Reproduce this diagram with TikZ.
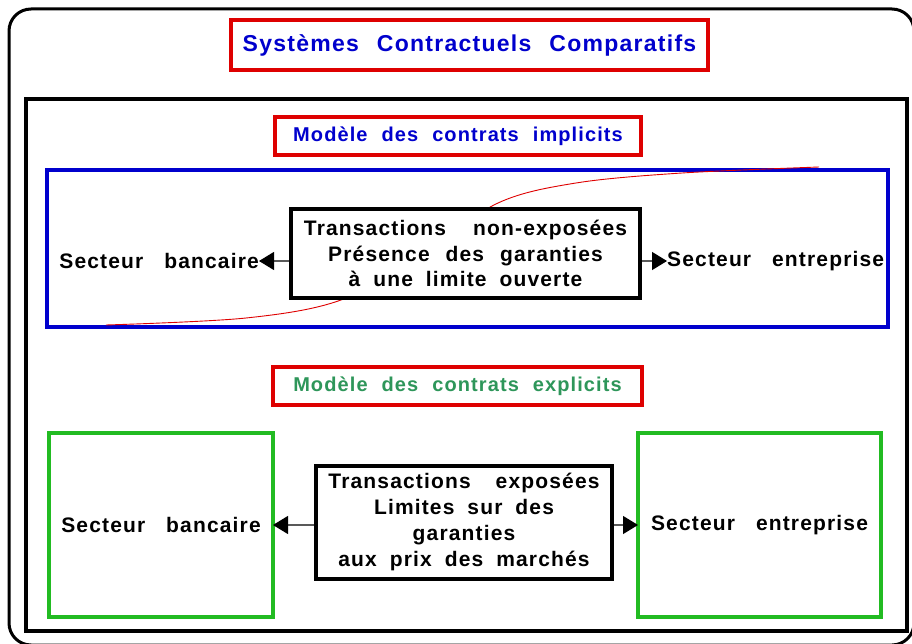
\documentclass[tikz,border=0pt]{standalone}
\usepackage{fontspec}
\setmainfont{Liberation Sans}
\newfontfamily\lbl[LetterSpace=5.5]{Liberation Sans}
\usetikzlibrary{arrows.meta,calc}
\definecolor{tblue}{RGB}{0,0,205}
\definecolor{tred}{RGB}{222,0,0}
\definecolor{tgreen}{RGB}{34,187,34}
\definecolor{tsea}{RGB}{46,150,90}
% word gap of a given width (pt)
\newcommand\wg[1]{\hspace{#1pt}}
\begin{document}
\begin{tikzpicture}[x=1pt,y=-1pt,
  txt/.style={font=\lbl\bfseries\fontsize{21}{25.7}\selectfont, inner sep=0pt, align=center},
  subtxt/.style={font=\lbl\bfseries\fontsize{20}{24}\selectfont},
  frame/.style={txt, draw, line width=4pt, fill=white},
  redbox/.style={frame, draw=tred},
  greenbox/.style={frame, draw=tgreen},
  blackbox/.style={frame, draw=black},
  arr/.style={draw=black!65, line width=1.2pt,
    -{Triangle[length=15pt,width=18pt,color=black]}}]
\useasboundingbox (0,0) rectangle (912,644);

% outer rounded frame and inner frame
\draw[line width=3pt, rounded corners=22pt] (9,9) rectangle (914,645);
\draw[line width=4pt] (26,99) rectangle (907,631);

% title
\node[redbox, minimum width=477pt, minimum height=50pt, text=tblue,
      font=\lbl\bfseries\fontsize{23}{28}\selectfont] (title) at (469.5,45)
  {Systèmes\wg{18}Contractuels\wg{18}Comparatifs};

% implicit contracts
\node[redbox, subtxt, minimum width=366pt, minimum height=38pt, text=tblue] (impl) at (458,136)
  {Modèle\wg{14}des\wg{14}contrats\wg{14}implicits};
\node[draw=tblue, line width=4pt, minimum width=841pt, minimum height=157pt, inner sep=0pt] (bluezone) at (467.5,248.5) {};

\draw[tred, line width=0.9pt] plot[smooth, tension=0.55] coordinates
  {(106,325) (246,318) (341,300) (420,255) (498,203) (576,183) (682,173) (819,167)};

\node[blackbox, minimum width=349pt, minimum height=89pt] (c1) at (465.5,253.5)
  {Transactions\wg{27}non-exposées\\Présence\wg{16}des\wg{16}garanties\\à\wg{13}une\wg{13}limite\wg{13}ouverte};
\node[txt, anchor=east] (b1) at (259,261) {Secteur\wg{21}bancaire};
\node[txt, anchor=west] (e1) at (667,261) {Secteur\wg{21}entreprise};
\draw[arr] (c1.west |- b1.east) -- (b1.east);
\draw[arr] (c1.east |- e1.west) -- (e1.west);

% explicit contracts
\node[redbox, subtxt, minimum width=369pt, minimum height=38pt, text=tsea] (expl) at (457.5,386)
  {Modèle\wg{14}des\wg{14}contrats\wg{14}explicits};
\node[greenbox, minimum width=224pt, minimum height=184pt] (b2) at (161,525) {Secteur\wg{21}bancaire};
\node[greenbox, minimum width=243pt, minimum height=184pt] (e2) at (759.5,525) {Secteur\wg{21}entreprise};
\node[blackbox, minimum width=296pt, minimum height=113pt] (c2) at (464,522)
  {Transactions\wg{25}exposées\\Limites\wg{13}sur\wg{13}des\\garanties\\aux\wg{13}prix\wg{13}des\wg{13}marchés};
\draw[arr, shorten >=-2pt] (c2.west |- b2.east) -- (b2.east);
\draw[arr, shorten >=-2pt] (c2.east |- e2.west) -- (e2.west);
\end{tikzpicture}
\end{document}
